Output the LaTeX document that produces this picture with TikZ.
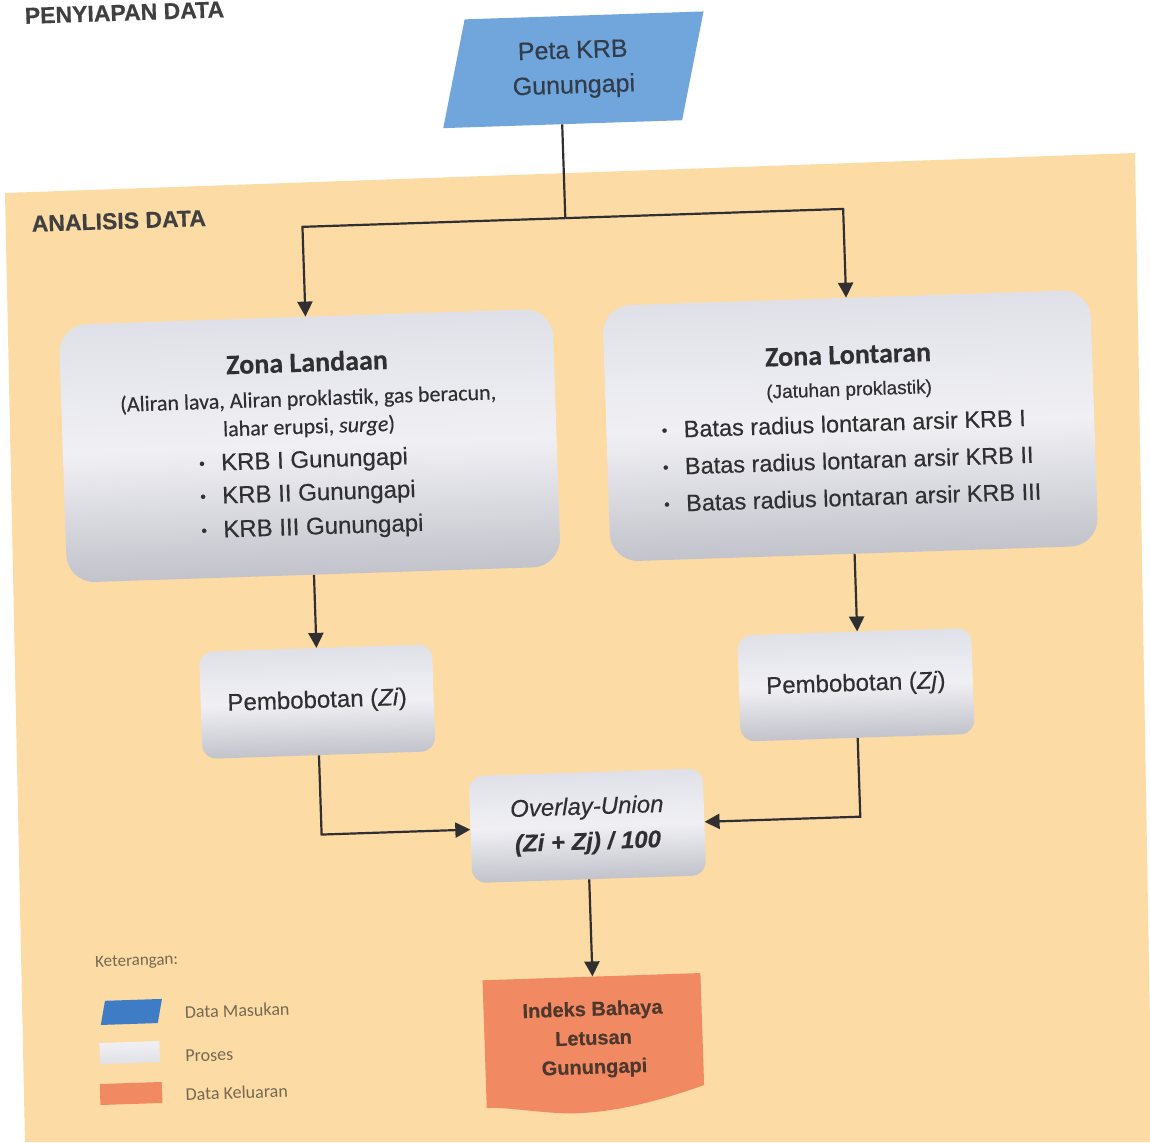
\documentclass[tikz,border=0pt]{standalone}
\usepackage{fontspec}
\setmainfont{Liberation Sans}[FakeBold=0.4]
\newfontfamily\calfont{Carlito}[FakeBold=0.3]
\newfontfamily\legfont{Carlito}
\usetikzlibrary{arrows.meta}

\definecolor{bgorange}{RGB}{252,219,164}
\definecolor{inblue}{RGB}{112,166,220}
\definecolor{legblue}{RGB}{62,124,198}
\definecolor{outorange}{RGB}{241,138,98}
\definecolor{ink}{RGB}{48,48,50}
\definecolor{headink}{RGB}{64,64,64}
\definecolor{petaink}{RGB}{50,60,74}
\definecolor{docink}{RGB}{78,56,46}
\definecolor{legtext}{RGB}{118,104,82}
\definecolor{procA}{RGB}{224,225,232}
\definecolor{procB}{RGB}{240,240,244}
\definecolor{procC}{RGB}{194,195,203}

\newcommand\fs[2]{\fontsize{#1}{#2}\selectfont}
\newcommand\bul{\makebox[22pt][l]{\fs{16}{16}\raisebox{2pt}{•}}}
\newlength\blen

\begin{document}
\begin{tikzpicture}[x=1pt,y=-1pt,
  conn/.style={draw=ink, line width=2.2pt},
  arr/.style={conn, -{Triangle[length=15pt,width=15pt]}},
  proc/.style={rounded corners=#1, top color=procA, bottom color=procC,
    middle color=procB, text=ink, inner sep=0pt},
  proc/.default=14pt,
  head/.style={anchor=west, text=headink, font=\bfseries\fs{23}{26}},
  legend/.style={anchor=west, text=legtext, font=\legfont\fs{18}{20}}]

\useasboundingbox (0,0) rectangle (1150,1142);
\fill[white] (0,0) rectangle (1150,1142);

% analysis panel
\fill[bgorange] (5,193) -- (1135,153) -- (1152,1142) -- (25,1142) -- cycle;

\begin{scope}[transform canvas={rotate around={1.9:(575,571)}}]

% section headings
\node[head] (hprep) at (40,-2) {PENYIAPAN DATA};
\node[head] (hana) at (40,206) {ANALISIS DATA};

% input data
\coordinate (pc) at (590,70);
\fill[inblue, shift={(pc)}] (-107,-54) -- (132,-54) -- (107,54) -- (-132,54) -- cycle;
\node[minimum width=240pt, minimum height=108pt, inner sep=0pt, text=petaink]
  (peta) at (pc) {\parbox{220pt}{\centering\fs{25}{35}Peta KRB\par Gunungapi\par}};

\coordinate (jn) at (577,218);

% zone processes
\node[proc=28pt, minimum width=494pt, minimum height=258pt] (zl) at (314,437)
 {\parbox{480pt}{\centering
  \calfont\bfseries\fs{28}{30}Zona Landaan\par
  \mdseries\fs{22}{34}(Aliran lava, Aliran proklastik, gas beracun,\par
  \fs{22}{28}lahar erupsi, \textit{surge})\par
  \normalfont\fs{24}{34}\settowidth{\blen}{\bul KRB III Gunungapi}%
  \makebox[\blen][l]{\bul KRB I Gunungapi}\par
  \fs{24}{33}\makebox[\blen][l]{\bul KRB II Gunungapi}\par
  \fs{24}{34}\makebox[\blen][l]{\bul KRB III Gunungapi}\par}};

\node[proc=28pt, minimum width=488pt, minimum height=256pt] (zr) at (855,435)
 {\parbox{480pt}{\centering
  \calfont\bfseries\fs{28}{30}Zona Lontaran\par
  \normalfont\fs{19}{32}(Jatuhan proklastik)\par
  \fs{23.5}{36}\settowidth{\blen}{\bul Batas radius lontaran arsir KRB III}%
  \makebox[\blen][l]{\bul Batas radius lontaran arsir KRB I}\par
  \fs{23.5}{37}\makebox[\blen][l]{\bul Batas radius lontaran arsir KRB II}\par
  \fs{23.5}{37}\makebox[\blen][l]{\bul Batas radius lontaran arsir KRB III}\par}};

% weighting
\node[proc, minimum width=233pt, minimum height=107pt, font=\fs{24}{28}] (pzi) at (313,693)
  {Pembobotan (\textit{Zi})};
\node[proc, minimum width=234pt, minimum height=106pt, font=\fs{24}{28}] (pzj) at (852,694)
  {Pembobotan (\textit{Zj})};

% overlay
\node[proc, minimum width=234pt, minimum height=107pt] (ov) at (579,826)
  {\parbox{220pt}{\centering\itshape\fs{24}{35}Overlay-Union\par
   \bfseries (Zi + Zj) / 100\par}};

% output document
\coordinate (docc) at (578,1040);
\fill[outorange, shift={(docc)}] (-109,-63) -- (109,-63) -- (109,49)
  .. controls (50,68) and (0,76) .. (-40,72)
  .. controls (-70,69) and (-95,64) .. (-109,65) -- cycle;
\node[minimum width=218pt, minimum height=126pt, inner sep=0pt, text=docink] (doc) at (docc)
  {\parbox{200pt}{\centering\bfseries\fs{20}{29}Indeks Bahaya\par Letusan\par Gunungapi\par}};

% connectors
\draw[conn] (peta.south -| jn) -- (jn);
\draw[arr] (jn) -| (zl.north);
\draw[arr] (jn) -| (zr.north);
\draw[arr] (zl.south) -- (zl.south |- pzi.north);
\draw[arr] (zr.south) -- (zr.south |- pzj.north);
\draw[arr] (pzi.south) |- (ov.west);
\draw[arr] (pzj.south) |- (ov.east);
\draw[arr] (ov.south) -- (ov.south |- doc.north);

% legend
\node[anchor=west, text=legtext, font=\legfont\fs{17}{19}] (ket) at (79,947) {Keterangan:};
\fill[legblue] (91,985) -- (148,985) -- (143,1009) -- (86,1009) -- cycle;
\shade[top color=procB, bottom color=procA] (84,1027) rectangle (144,1048);
\fill[outorange] (83,1068) rectangle (145,1089);
\node[legend] (lin) at (167,999) {Data Masukan};
\node[legend] (lpr) at (166,1043) {Proses};
\node[legend] (lout) at (165,1081) {Data Keluaran};

\end{scope}
\end{tikzpicture}
\end{document}
